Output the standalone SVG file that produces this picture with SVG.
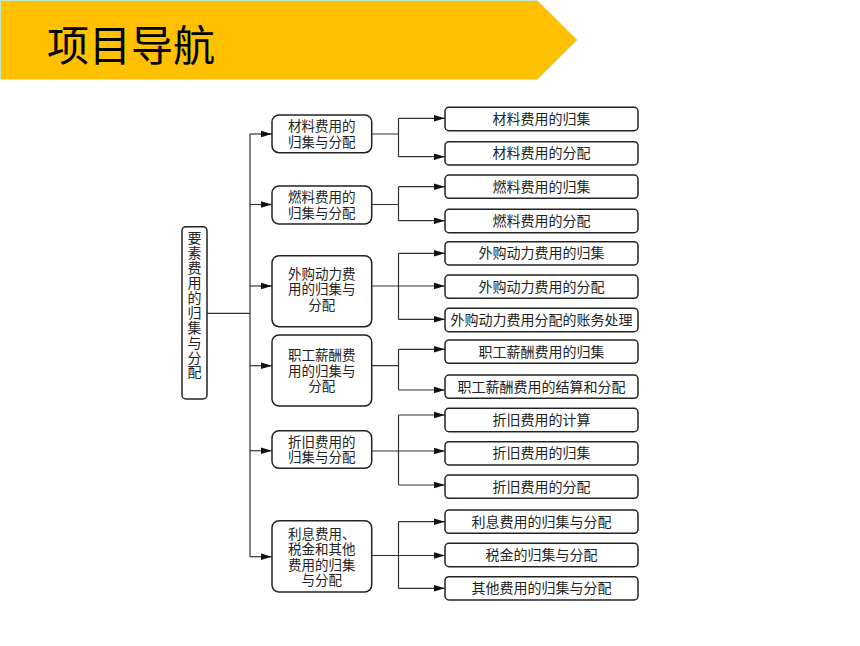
<svg xmlns="http://www.w3.org/2000/svg" width="860" height="646" viewBox="0 0 860 646">
<style>
.t{font-family:"Liberation Sans","Noto Sans CJK SC",sans-serif;font-size:14px;fill:#222;text-anchor:middle}
.m{font-family:"Liberation Sans","Noto Sans CJK SC",sans-serif;font-size:13.5px;fill:#222;text-anchor:middle}
.box{fill:#fff;stroke:#222;stroke-width:1.5}
.ln{fill:none;stroke:#333;stroke-width:1.2}
.ar{fill:none;stroke:#333;stroke-width:1.2;marker-end:url(#ah)}
</style>
<defs>
<marker id="ah" markerUnits="userSpaceOnUse" markerWidth="12" markerHeight="8" refX="11" refY="4" orient="auto">
<path d="M0,0.8 L11,4 L0,7.2 Z" fill="#111"/>
</marker>
</defs>
<rect width="860" height="646" fill="#fff"/>
<g id="banner">
<polygon points="0.5,0.5 537.3,0.5 577.3,40 537.3,79.5 0.5,79.5" fill="#FFC000" stroke="#c2e6cf" stroke-width="1"/>
<text x="47" y="61" style="font-family:'Noto Sans CJK SC','Noto Sans',sans-serif;font-size:42px;fill:#000">项目导航</text>
</g>
<g id="connectors">
<path class="ln" d="M207,313.3 H250 M250,134 V556.7"/>
<path class="ar" d="M250,134 H272"/>
<path class="ar" d="M250,204.5 H272"/>
<path class="ar" d="M250,286 H272"/>
<path class="ar" d="M250,365.7 H272"/>
<path class="ar" d="M250,450.7 H272"/>
<path class="ar" d="M250,556.7 H272"/>
<path class="ln" d="M371.7,134 H398.5 M398.5,118.3 V156.7"/>
<path class="ar" d="M398.5,118.3 H445"/>
<path class="ar" d="M398.5,156.7 H445"/>
<path class="ln" d="M371.7,204.5 H398.5 M398.5,186.7 V220.7"/>
<path class="ar" d="M398.5,186.7 H445"/>
<path class="ar" d="M398.5,220.7 H445"/>
<path class="ln" d="M398.5,253.3 V319.3"/>
<path class="ar" d="M398.5,253.3 H445"/>
<path class="ar" d="M371.7,286 H445"/>
<path class="ar" d="M398.5,319.3 H445"/>
<path class="ln" d="M371.7,365.7 H398.5 M398.5,349.3 V390"/>
<path class="ar" d="M398.5,349.3 H445"/>
<path class="ar" d="M398.5,390 H445"/>
<path class="ln" d="M398.5,415 V485"/>
<path class="ar" d="M398.5,415 H445"/>
<path class="ar" d="M371.7,451 H445"/>
<path class="ar" d="M398.5,485 H445"/>
<path class="ln" d="M398.5,521.7 V588.3"/>
<path class="ar" d="M398.5,521.7 H445"/>
<path class="ar" d="M371.7,555.5 H445"/>
<path class="ar" d="M398.5,588.3 H445"/>
</g>
<g id="root">
<rect class="box" x="182" y="226.7" width="25" height="172.3" rx="4"/>
<text x="194.5" y="231" writing-mode="vertical-rl" style="font-family:'Noto Sans CJK SC',sans-serif;font-size:14px;fill:#222;letter-spacing:0.9px">要素费用的归集与分配</text>
</g>
<g id="m1">
<rect class="box" x="272" y="115" width="99.7" height="37.7" rx="7"/>
<text class="m"><tspan x="321.8" y="131.3">材料费用的</tspan><tspan x="321.8" y="146.8">归集与分配</tspan></text>
</g>
<g id="m2">
<rect class="box" x="272" y="186" width="99.7" height="38" rx="7"/>
<text class="m"><tspan x="321.8" y="202.3">燃料费用的</tspan><tspan x="321.8" y="217.8">归集与分配</tspan></text>
</g>
<g id="m3">
<rect class="box" x="272" y="255.7" width="99.7" height="71" rx="7"/>
<text class="m"><tspan x="321.8" y="278.6">外购动力费</tspan><tspan x="321.8" y="294.1">用的归集与</tspan><tspan x="321.8" y="309.6">分配</tspan></text>
</g>
<g id="m4">
<rect class="box" x="272" y="335" width="99.7" height="71" rx="7"/>
<text class="m"><tspan x="321.8" y="360.1">职工薪酬费</tspan><tspan x="321.8" y="375.6">用的归集与</tspan><tspan x="321.8" y="391.1">分配</tspan></text>
</g>
<g id="m5">
<rect class="box" x="272" y="430.7" width="99.7" height="37.6" rx="7"/>
<text class="m"><tspan x="321.8" y="446.9">折旧费用的</tspan><tspan x="321.8" y="462.4">归集与分配</tspan></text>
</g>
<g id="m6">
<rect class="box" x="272" y="520.7" width="99.7" height="71.3" rx="7"/>
<text class="m"><tspan x="321.8" y="538.9">利息费用、</tspan><tspan x="321.8" y="554.4">税金和其他</tspan><tspan x="321.8" y="569.9">费用的归集</tspan><tspan x="321.8" y="585.4">与分配</tspan></text>
</g>
<g id="r1"><rect class="box" x="445" y="107.3" width="193" height="23.4" rx="4"/><text class="t" x="541.5" y="124">材料费用的归集</text></g>
<g id="r2"><rect class="box" x="445" y="141.7" width="193" height="23.3" rx="4"/><text class="t" x="541.5" y="158.3">材料费用的分配</text></g>
<g id="r3"><rect class="box" x="445" y="175" width="193" height="23.3" rx="4"/><text class="t" x="541.5" y="191.7">燃料费用的归集</text></g>
<g id="r4"><rect class="box" x="445" y="209.3" width="193" height="23.4" rx="4"/><text class="t" x="541.5" y="226">燃料费用的分配</text></g>
<g id="r5"><rect class="box" x="445" y="241.7" width="193" height="23.3" rx="4"/><text class="t" x="541.5" y="258.3">外购动力费用的归集</text></g>
<g id="r6"><rect class="box" x="445" y="275" width="193" height="23.3" rx="4"/><text class="t" x="541.5" y="291.7">外购动力费用的分配</text></g>
<g id="r7"><rect class="box" x="445" y="308.3" width="193" height="23.4" rx="4"/><text class="t" x="541.5" y="325">外购动力费用分配的账务处理</text></g>
<g id="r8"><rect class="box" x="445" y="340" width="193" height="23.3" rx="4"/><text class="t" x="541.5" y="356.7">职工薪酬费用的归集</text></g>
<g id="r9"><rect class="box" x="445" y="375" width="193" height="23.3" rx="4"/><text class="t" x="541.5" y="391.7">职工薪酬费用的结算和分配</text></g>
<g id="r10"><rect class="box" x="445" y="408.3" width="193" height="23.4" rx="4"/><text class="t" x="541.5" y="425">折旧费用的计算</text></g>
<g id="r11"><rect class="box" x="445" y="441.7" width="193" height="23.3" rx="4"/><text class="t" x="541.5" y="458.3">折旧费用的归集</text></g>
<g id="r12"><rect class="box" x="445" y="475" width="193" height="23.3" rx="4"/><text class="t" x="541.5" y="491.7">折旧费用的分配</text></g>
<g id="r13"><rect class="box" x="445" y="510" width="193" height="23.3" rx="4"/><text class="t" x="541.5" y="526.7">利息费用的归集与分配</text></g>
<g id="r14"><rect class="box" x="445" y="543.3" width="193" height="23.4" rx="4"/><text class="t" x="541.5" y="560">税金的归集与分配</text></g>
<g id="r15"><rect class="box" x="445" y="576.7" width="193" height="23.3" rx="4"/><text class="t" x="541.5" y="593.3">其他费用的归集与分配</text></g>
</svg>
